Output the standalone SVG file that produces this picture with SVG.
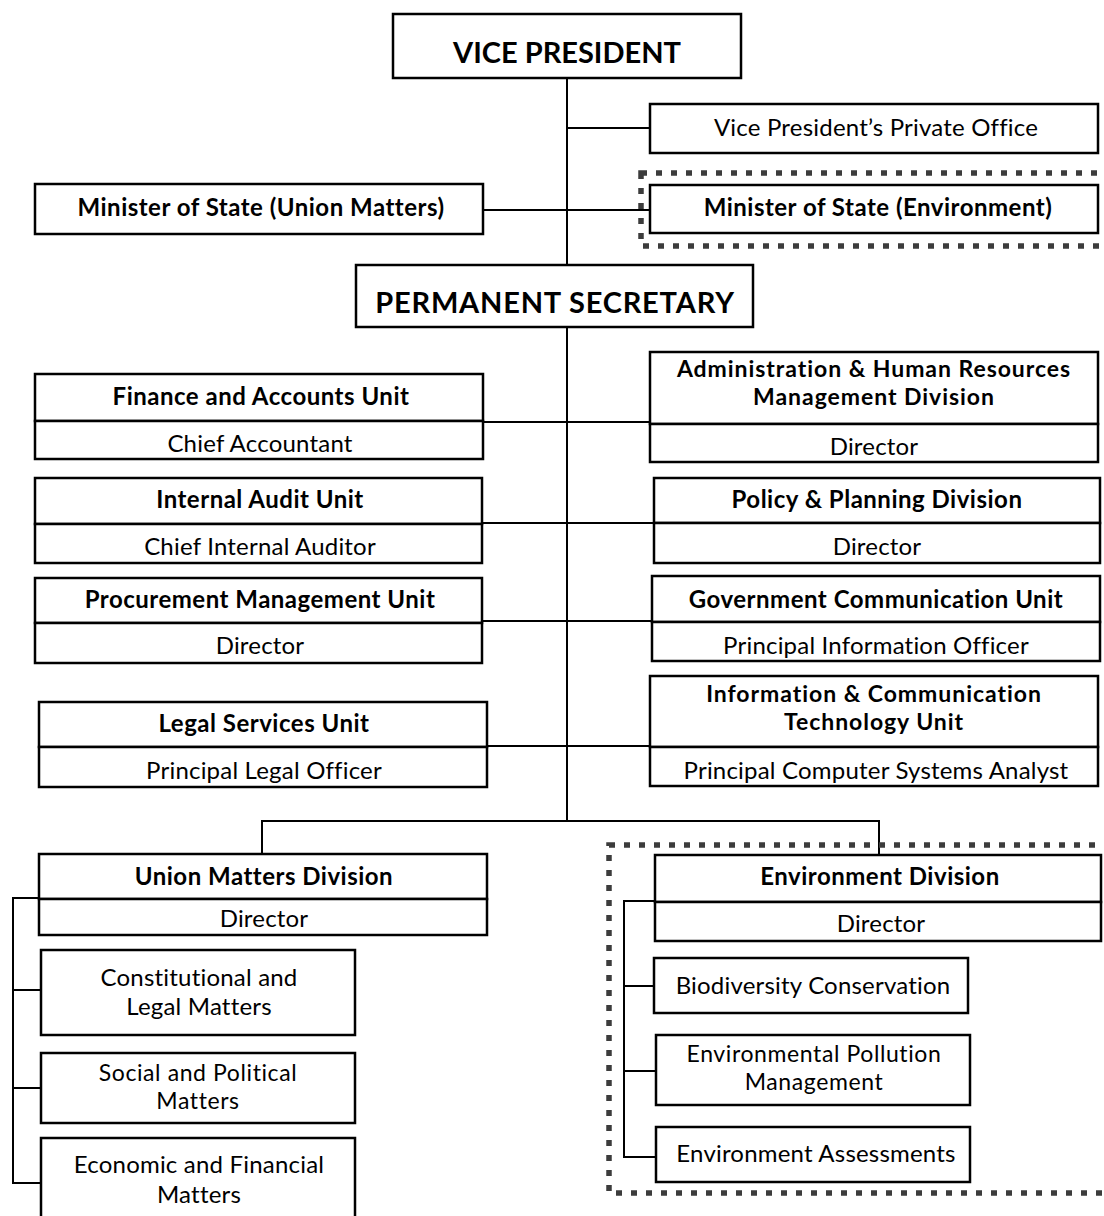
<svg xmlns="http://www.w3.org/2000/svg" width="1104" height="1216" viewBox="0 0 1104 1216">
<style>
.box{fill:#fff;stroke:#000;stroke-width:2.5}
.ln{fill:none;stroke:#000;stroke-width:2}
.dot{fill:none;stroke:#3c3c3c;stroke-width:5.5;stroke-dasharray:6 9}
text{font-family:Lato,"Liberation Sans",sans-serif;fill:#000;text-anchor:middle}
.b{font-weight:bold;font-size:24px;letter-spacing:0.5px}
.r{font-size:24px;letter-spacing:0.2px}
.b2{font-weight:bold;font-size:23px;letter-spacing:0.95px}
.r2{font-size:23px;letter-spacing:0.6px}
.big{font-weight:bold;font-size:29px}
</style>
<rect width="1104" height="1216" fill="#fff"/>
<g id="connectors">
<line class="ln" x1="567" y1="78" x2="567" y2="821"/>
<line class="ln" x1="567" y1="128" x2="650" y2="128"/>
<line class="ln" x1="483" y1="210" x2="650" y2="210"/>
<line class="ln" x1="483" y1="422" x2="650" y2="422"/>
<line class="ln" x1="482" y1="523" x2="654" y2="523"/>
<line class="ln" x1="482" y1="621" x2="652" y2="621"/>
<line class="ln" x1="487" y1="746" x2="650" y2="746"/>
<polyline class="ln" points="262,854 262,821 879,821 879,855"/>
<polyline class="ln" points="39,898 13,898 13,1183 41,1183"/>
<line class="ln" x1="13" y1="990" x2="41" y2="990"/>
<line class="ln" x1="13" y1="1088" x2="41" y2="1088"/>
<polyline class="ln" points="655,901 624,901 624,1157 656,1157"/>
<line class="ln" x1="624" y1="986" x2="654" y2="986"/>
<line class="ln" x1="624" y1="1071" x2="656" y2="1071"/>
</g>
<g id="vice-president"><rect class="box" x="393" y="14" width="348" height="64"/><text class="big" x="567" y="63">VICE PRESIDENT</text></g>
<g id="private-office"><rect class="box" x="650" y="104" width="448" height="49"/><text class="r" x="876" y="136">Vice President’s Private Office</text></g>
<g id="minister-union"><rect class="box" x="35" y="184" width="448" height="50"/><text class="b" x="261" y="216">Minister of State (Union Matters)</text></g>
<g id="minister-env"><rect class="dot" x="641" y="173" width="470" height="73"/><rect class="box" x="650" y="185" width="448" height="48"/><text class="b" x="878" y="216">Minister of State (Environment)</text></g>
<g id="permanent-secretary"><rect class="box" x="356" y="265" width="397" height="62"/><text class="big" x="555" y="313" style="letter-spacing:0.8px">PERMANENT SECRETARY</text></g>
<g id="finance"><rect class="box" x="35" y="374" width="448" height="47"/><rect class="box" x="35" y="421" width="448" height="38"/><text class="b" x="261" y="405">Finance and Accounts Unit</text><text class="r" x="260" y="452">Chief Accountant</text></g>
<g id="audit"><rect class="box" x="35" y="478" width="447" height="46"/><rect class="box" x="35" y="524" width="447" height="39"/><text class="b" x="260" y="508">Internal Audit Unit</text><text class="r" x="260" y="555">Chief Internal Auditor</text></g>
<g id="procurement"><rect class="box" x="35" y="578" width="447" height="45"/><rect class="box" x="35" y="623" width="447" height="40"/><text class="b" x="260" y="608">Procurement Management Unit</text><text class="r" x="260" y="654">Director</text></g>
<g id="legal"><rect class="box" x="39" y="702" width="448" height="45"/><rect class="box" x="39" y="747" width="448" height="40"/><text class="b" x="264" y="732">Legal Services Unit</text><text class="r" x="264" y="779">Principal Legal Officer</text></g>
<g id="admin"><rect class="box" x="650" y="352" width="448" height="72"/><rect class="box" x="650" y="424" width="448" height="38"/><text class="b2" x="874" y="377">Administration &amp; Human Resources</text><text class="b2" x="874" y="405">Management Division</text><text class="r" x="874" y="455">Director</text></g>
<g id="policy"><rect class="box" x="654" y="478" width="446" height="45"/><rect class="box" x="654" y="523" width="446" height="40"/><text class="b" x="877" y="508">Policy &amp; Planning Division</text><text class="r" x="877" y="555">Director</text></g>
<g id="gcu"><rect class="box" x="652" y="576" width="448" height="46"/><rect class="box" x="652" y="622" width="448" height="39"/><text class="b" x="876" y="608">Government Communication Unit</text><text class="r" x="876" y="654">Principal Information Officer</text></g>
<g id="ict"><rect class="box" x="650" y="676" width="448" height="71"/><rect class="box" x="650" y="747" width="448" height="39"/><text class="b2" x="874" y="702">Information &amp; Communication</text><text class="b2" x="874" y="730">Technology Unit</text><text class="r" x="876" y="779">Principal Computer Systems Analyst</text></g>
<g id="union"><rect class="box" x="39" y="854" width="448" height="45"/><rect class="box" x="39" y="899" width="448" height="36"/><text class="b" x="264" y="885">Union Matters Division</text><text class="r" x="264" y="927">Director</text></g>
<g id="constitutional"><rect class="box" x="41" y="950" width="314" height="85"/><text class="r" x="199" y="986">Constitutional and</text><text class="r" x="199" y="1015">Legal Matters</text></g>
<g id="social"><rect class="box" x="41" y="1053" width="314" height="70"/><text class="r2" x="198" y="1081">Social and Political</text><text class="r2" x="198" y="1109">Matters</text></g>
<g id="economic"><rect class="box" x="41" y="1138" width="314" height="90"/><text class="r" x="199" y="1173">Economic and Financial</text><text class="r" x="199" y="1203">Matters</text></g>
<g id="environment-division"><rect class="dot" x="609" y="845" width="500" height="348"/><rect class="box" x="655" y="855" width="446" height="47"/><rect class="box" x="655" y="902" width="446" height="39"/><text class="b" x="880" y="885">Environment Division</text><text class="r" x="881" y="932">Director</text></g>
<g id="biodiversity"><rect class="box" x="654" y="958" width="314" height="55"/><text class="r" x="813" y="994">Biodiversity Conservation</text></g>
<g id="pollution"><rect class="box" x="656" y="1035" width="314" height="70"/><text class="r2" x="814" y="1062">Environmental Pollution</text><text class="r2" x="814" y="1090">Management</text></g>
<g id="assessments"><rect class="box" x="656" y="1127" width="314" height="55"/><text class="r" x="816" y="1162">Environment Assessments</text></g>
</svg>
